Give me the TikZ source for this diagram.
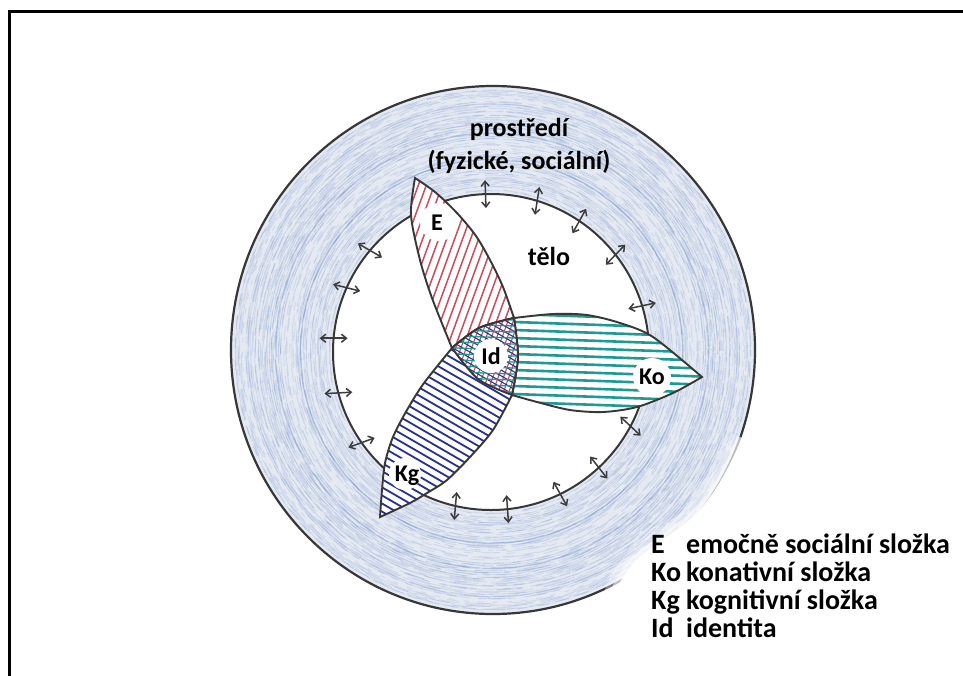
\documentclass[tikz,border=0pt]{standalone}
\usepackage{fontspec}
\setmainfont{Carlito}
\usetikzlibrary{arrows.meta}
\definecolor{ringblue}{RGB}{228,233,242}
\definecolor{crayon}{RGB}{110,140,200}
\definecolor{outl}{RGB}{55,55,55}
\definecolor{ered}{RGB}{205,75,90}
\definecolor{koteal}{RGB}{30,155,145}
\definecolor{kgnavy}{RGB}{40,50,140}
\definecolor{arrowgray}{RGB}{60,60,60}
\tikzset{
  petal/.style={draw=outl, line width=1.9},
  biarrow/.style={{Straight Barb[length=5pt,width=8pt]}-{Straight Barb[length=5pt,width=8pt]}, line width=1.5, draw=arrowgray},
  lbl/.style={font=\fontsize{24}{28}\selectfont\bfseries, inner sep=0pt},
  txt/.style={font=\fontsize{26}{33}\selectfont\bfseries, inner sep=0pt},
  legtxt/.style={font=\fontsize{28}{28}\selectfont\bfseries, inner sep=0pt, anchor=base west}
}
\newcommand\hatchlines[5]{%
  \begin{scope}[shift={#5}, rotate=#2]
    \foreach \k in {-45,...,45} \draw[#1, line width=#4] (-320,\k*#3) -- (320,\k*#3);
  \end{scope}}
\def\Epath{plot[smooth] coordinates {(415,178) (411,215) (420,260) (432,298) (452,348)} -- plot[smooth] coordinates {(452,348) (478,379) (512,395)} -- plot[smooth] coordinates {(512,395) (518,357) (514,318)} -- plot[smooth] coordinates {(514,318) (503,287) (490,260) (476,236) (457,213) (435,192) (415,178)} -- cycle}
\def\Kopath{plot[smooth] coordinates {(702,377) (653,337) (620,323) (587,315) (553,314) (514,318)} -- plot[smooth] coordinates {(514,318) (479,328) (452,348)} -- plot[smooth] coordinates {(452,348) (478,379) (512,395)} -- plot[smooth] coordinates {(512,395) (537,402) (570,410) (603,412) (637,407) (673,393) (702,377)} -- cycle}
\def\Kgpath{plot[smooth] coordinates {(380,517) (382,490) (385,463) (393,437) (407,410) (424,383) (452,348)} -- plot[smooth] coordinates {(452,348) (479,328) (514,318)} -- plot[smooth] coordinates {(514,318) (518,357) (512,395)} -- plot[smooth] coordinates {(512,395) (493,430) (470,457) (447,480) (427,493) (410,503) (380,517)} -- cycle}
\def\Idpath{plot[smooth] coordinates {(452,348) (479,328) (514,318)} -- plot[smooth] coordinates {(514,318) (518,357) (512,395)} -- plot[smooth] coordinates {(512,395) (478,379) (452,348)} -- cycle}
\def\Cutedge{(742,438) .. controls (728,470) and (712,500) .. (690,520) .. controls (665,540) and (640,552) .. (628,570) .. controls (620,580) and (614,592) .. (612,610)}
\begin{document}
\begin{tikzpicture}[x=1pt,y=-1pt]
\useasboundingbox (0,0) rectangle (963,675);
\clip (0,0) rectangle (963,675);
\fill[white] (0,0) rectangle (963,675);
% frame
\draw[line width=3] (9,700) -- (9,11) -- (990,11);
% ring (environment)
\fill[ringblue, even odd rule] (493,350) ellipse [x radius=262, y radius=264] (491,352) circle [radius=158];
\begin{scope}
  \clip (493,350) ellipse [x radius=262, y radius=264];
  \pgfmathsetseed{11}
  \foreach \i in {1,...,130}{
    \pgfmathsetmacro\tv{0.03+0.94*rnd}
    \pgfmathsetmacro\rx{158+\tv*104}
    \pgfmathsetmacro\ry{158+\tv*106}
    \pgfmathsetmacro\cx{491+\tv*2}
    \pgfmathsetmacro\cy{352-\tv*2}
    \pgfmathsetmacro\da{5+rnd*35}
    \pgfmathsetmacro\db{4+rnd*30}
    \pgfmathsetmacro\ph{rnd*60}
    \draw[crayon, line width=0.9, opacity=0.17, dash pattern=on \da pt off \db pt, dash phase=\ph pt] (\cx,\cy) ellipse [x radius=\rx, y radius=\ry];
  }
\end{scope}
\draw[outl, line width=2.2] (493,350) ellipse [x radius=262, y radius=264];
% white backdrop of the legend, cutting the ring with a soft edge
\draw[white, line width=22, opacity=0.35] \Cutedge;
\draw[white, line width=10, opacity=0.5] \Cutedge;
\fill[white] \Cutedge -- (612,700) -- (990,700) -- (990,438) -- cycle;
% body circle
\draw[outl, line width=2] (491,352) circle [radius=158];
% exchange arrows
\foreach \a/\tl in {268/0, 287/-8, 304/-5, 322/-8, 343/5, 28/15, 47/5, 64/-3, 84/2, 103/-8, 145/15, 165/12, 185/-5, 204/-10, 220/-10}{
  \draw[biarrow] ({491+158*cos(\a)-14*cos(\a+\tl)},{352+158*sin(\a)-14*sin(\a+\tl)}) -- ({491+158*cos(\a)+14*cos(\a+\tl)},{352+158*sin(\a)+14*sin(\a+\tl)});
}
% petal E
\fill[white] \Epath;
\begin{scope}
  \clip \Epath;
  \hatchlines{ered}{70}{7.5}{1.5}{(460,290)}
  \fill[white] (439,222) circle [radius=19];
\end{scope}
\draw[petal] \Epath;
% petal Ko
\fill[white] \Kopath;
\begin{scope}
  \clip \Kopath;
  \hatchlines{koteal}{-2}{8}{2.6}{(600,365)}
  \fill[white] (652,377) circle [radius=19];
\end{scope}
\draw[petal] \Kopath;
% petal Kg
\fill[white] \Kgpath;
\begin{scope}
  \clip \Kgpath;
  \hatchlines{kgnavy}{-30}{7}{1.8}{(440,440)}
  \fill[white] (405,474) circle [radius=16];
\end{scope}
\draw[petal] \Kgpath;
% identity
\fill[white] \Idpath;
\begin{scope}
  \clip \Idpath;
  \hatchlines{ered}{70}{5}{1.1}{(485,355)}
  \hatchlines{kgnavy}{-30}{5}{1.1}{(485,355)}
  \hatchlines{koteal}{-2}{6}{1.3}{(485,355)}
  \fill[white] (491,356) circle [radius=17];
\end{scope}
\draw[petal] \Idpath;
% labels
\node[lbl] (lE) at (437,223) {E};
\node[lbl] (lId) at (491,356) {Id};
\node[lbl] (lKo) at (652,377) {Ko};
\node[lbl] (lKg) at (407,476) {Kg};
\node[txt, align=center] (env) at (519,146) {prostředí\\(fyzické, sociální)};
\node[txt] (body) at (549,256) {tělo};
% legend
\node[legtxt] (kE) at (651,553) {E};
\node[legtxt] (dE) at (686,553) {emočně sociální složka};
\node[legtxt] (kKo) at (651,581) {Ko};
\node[legtxt] (dKo) at (686,581) {konativní složka};
\node[legtxt] (kKg) at (651,609) {Kg};
\node[legtxt] (dKg) at (686,609) {kognitivní složka};
\node[legtxt] (kId) at (651,637) {Id};
\node[legtxt] (dId) at (686,637) {identita};
\end{tikzpicture}
\end{document}
